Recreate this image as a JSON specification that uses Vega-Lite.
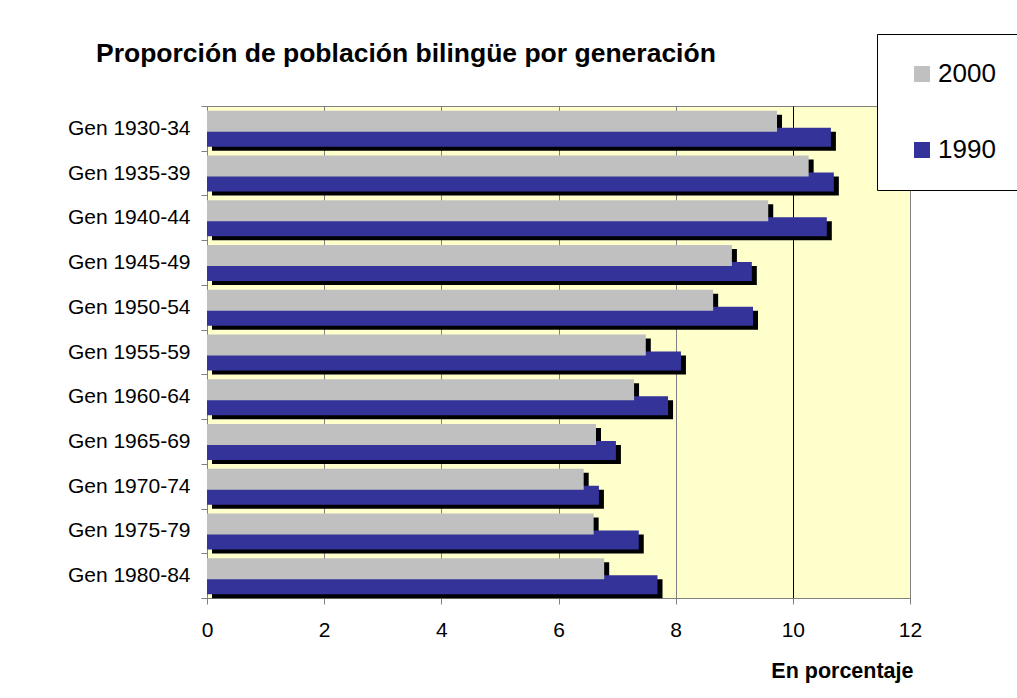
{
  "$schema": "https://vega.github.io/schema/vega-lite/v6.json",
  "width": 703,
  "height": 492,
  "autosize": "none",
  "padding": {"left": 207, "top": 106, "right": 107, "bottom": 100},
  "background": "white",
  "title": {
    "text": "Proporción de población bilingüe por generación",
    "anchor": "start",
    "frame": "group",
    "fontSize": 26.5,
    "fontWeight": "bold",
    "color": "black",
    "baseline": "alphabetic",
    "dx": -111,
    "offset": -55
  },
  "data": {
    "values": [
      {"gen": "Gen 1930-34", "year": "2000", "value": 9.73},
      {"gen": "Gen 1930-34", "year": "1990", "value": 10.65},
      {"gen": "Gen 1935-39", "year": "2000", "value": 10.27},
      {"gen": "Gen 1935-39", "year": "1990", "value": 10.70},
      {"gen": "Gen 1940-44", "year": "2000", "value": 9.58},
      {"gen": "Gen 1940-44", "year": "1990", "value": 10.58},
      {"gen": "Gen 1945-49", "year": "2000", "value": 8.96},
      {"gen": "Gen 1945-49", "year": "1990", "value": 9.30},
      {"gen": "Gen 1950-54", "year": "2000", "value": 8.64},
      {"gen": "Gen 1950-54", "year": "1990", "value": 9.32},
      {"gen": "Gen 1955-59", "year": "2000", "value": 7.49},
      {"gen": "Gen 1955-59", "year": "1990", "value": 8.09},
      {"gen": "Gen 1960-64", "year": "2000", "value": 7.29},
      {"gen": "Gen 1960-64", "year": "1990", "value": 7.87},
      {"gen": "Gen 1965-69", "year": "2000", "value": 6.64},
      {"gen": "Gen 1965-69", "year": "1990", "value": 6.98},
      {"gen": "Gen 1970-74", "year": "2000", "value": 6.43},
      {"gen": "Gen 1970-74", "year": "1990", "value": 6.69},
      {"gen": "Gen 1975-79", "year": "2000", "value": 6.60},
      {"gen": "Gen 1975-79", "year": "1990", "value": 7.37},
      {"gen": "Gen 1980-84", "year": "2000", "value": 6.78},
      {"gen": "Gen 1980-84", "year": "1990", "value": 7.69}
    ]
  },
  "encoding": {
    "y": {
      "field": "gen",
      "type": "nominal",
      "scale": {
        "domain": ["Gen 1930-34", "Gen 1935-39", "Gen 1940-44", "Gen 1945-49", "Gen 1950-54", "Gen 1955-59", "Gen 1960-64", "Gen 1965-69", "Gen 1970-74", "Gen 1975-79", "Gen 1980-84"],
        "paddingInner": 0,
        "paddingOuter": 0
      },
      "axis": {
        "title": null,
        "labelFontSize": 21,
        "labelColor": "black",
        "labelPadding": 11,
        "tickSize": 6,
        "tickColor": "#808080",
        "domainColor": "#808080",
        "tickBand": "extent",
        "grid": false
      }
    },
    "x": {
      "field": "value",
      "type": "quantitative",
      "scale": {"domain": [0, 12], "nice": false},
      "axis": {
        "title": "En porcentaje",
        "titleFontSize": 21.5,
        "titleFontWeight": "bold",
        "titleColor": "black",
        "titleAlign": "right",
        "titleBaseline": "alphabetic",
        "titleX": 706,
        "titleY": 79,
        "values": [0, 2, 4, 6, 8, 10, 12],
        "labelFontSize": 21,
        "labelColor": "black",
        "labelPadding": 15,
        "labelFlush": false,
        "tickSize": 6,
        "tickColor": "#808080",
        "domainColor": "#808080",
        "grid": true,
        "gridColor": {"condition": {"test": "datum.value == 10", "value": "#000000"}, "value": "#808080"},
        "gridOpacity": 1
      }
    }
  },
  "layer": [
    {
      "transform": [{"filter": "datum.year == '2000'"}],
      "mark": {"type": "bar", "color": "black", "height": 21, "yOffset": -3, "y2Offset": -3, "xOffset": 5, "x2Offset": 5}
    },
    {
      "transform": [{"filter": "datum.year == '1990'"}],
      "mark": {"type": "bar", "color": "black", "height": 19, "yOffset": 13, "y2Offset": 13, "xOffset": 5, "x2Offset": 5}
    },
    {
      "transform": [{"filter": "datum.year == '1990'"}],
      "mark": {"type": "bar", "height": 19, "yOffset": 9, "y2Offset": 9},
      "encoding": {
        "color": {
          "field": "year",
          "type": "nominal",
          "scale": {"domain": ["2000", "1990"], "range": ["#C0C0C0", "#333399"]},
          "legend": {
            "title": null,
            "orient": "none",
            "legendX": 670,
            "legendY": -72,
            "strokeColor": "black",
            "fillColor": "white",
            "padding": 27,
            "symbolType": "square",
            "symbolSize": 256,
            "symbolStrokeWidth": 0,
            "symbolOffset": 5,
            "labelFontSize": 26,
            "labelColor": "black",
            "labelOffset": 3,
            "rowPadding": 50
          }
        }
      }
    },
    {
      "transform": [{"filter": "datum.year == '2000'"}],
      "mark": {"type": "bar", "height": 21, "yOffset": -7, "y2Offset": -7},
      "encoding": {
        "color": {"field": "year", "type": "nominal"}
      }
    }
  ],
  "config": {
    "font": "Liberation Sans",
    "view": {"stroke": "#808080", "fill": "#FFFFCC"},
    "bar": {"opacity": 1}
  }
}
